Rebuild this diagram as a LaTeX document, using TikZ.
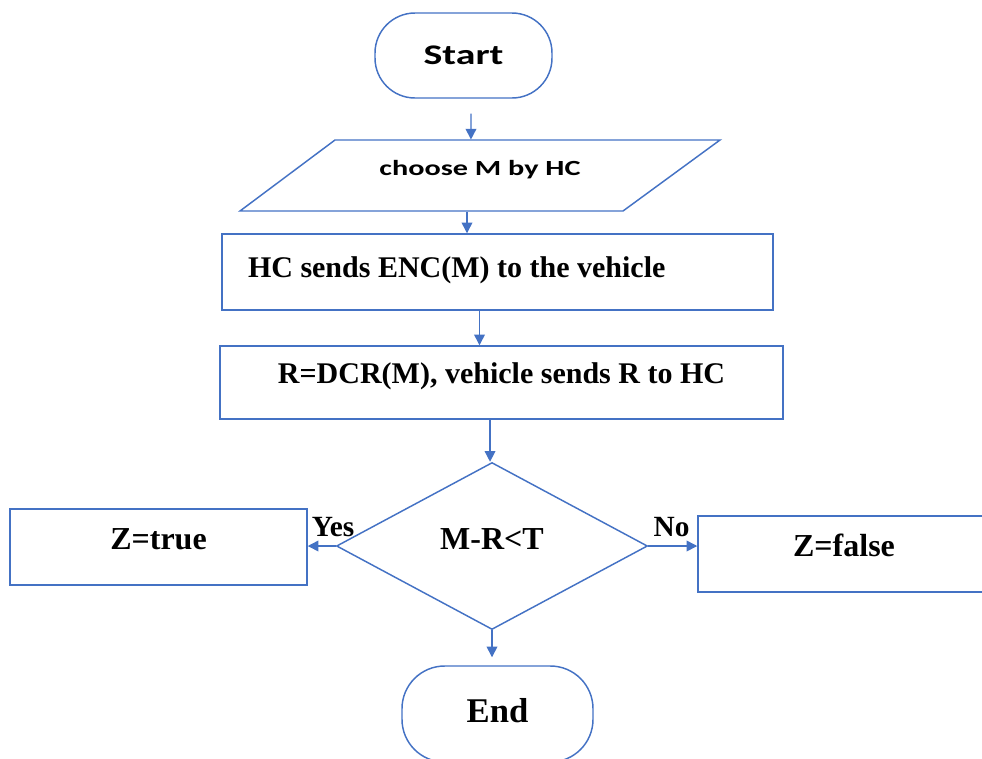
\documentclass[tikz,border=0pt]{standalone}
\usepackage{fontspec}
\setmainfont{Liberation Serif}
\newfontfamily\calibri[FakeStretch=1.4]{Carlito}
\usetikzlibrary{shapes.geometric,arrows.meta}
\definecolor{flowblue}{RGB}{68,114,196}
\tikzset{every picture/.style={line width=0.75pt}}
\tikzset{
  box/.style={draw=flowblue, line width=1.1pt, inner sep=0pt},
  term/.style={box, rounded corners=30pt},
  proc/.style={box},
  arr/.style={draw=flowblue, line width=1.1pt, -{Triangle[length=8pt,width=8pt]}},
  lbl/.style={inner sep=0.75pt, font=\fontsize{22}{26}\selectfont\bfseries}
}

\begin{document}
\begin{tikzpicture}[x=0.75pt,y=0.75pt,yscale=-1,xscale=1]
\useasboundingbox (0,0) rectangle (982,758);
\clip (0,0) rectangle (982,758);
%Shape: Terminal [id:start]
\draw (463.5,55.5) node [term, minimum width=132.75pt, minimum height=63.75pt, font=\calibri\fontsize{21.3}{25}\selectfont\bfseries] (start) {Start};
%Shape: Parallelogram [id:choose]
\draw [box] (335,140) -- (720,140) -- (623,211) -- (240,211) -- cycle ;
\draw (480,175.5) node [inner sep=0pt, minimum width=287pt, minimum height=53.25pt, text depth=11pt, font=\calibri\fontsize{16.2}{19}\selectfont\bfseries] (choose) {choose M by HC};
%Shape: Rectangle [id:hcsend]
\draw (497.5,272) node [proc, minimum height=57pt, inner xsep=19.5pt, text depth=8pt, font=\fontsize{22.5}{27}\selectfont\bfseries] (hcsend) {\makebox[374.25pt][l]{HC sends ENC(M) to the vehicle}};
%Shape: Rectangle [id:dcr]
\draw (501.5,382.5) node [proc, minimum width=422.25pt, minimum height=54.75pt, text depth=14pt, font=\fontsize{22.5}{27}\selectfont\bfseries] (dcr) {R=DCR(M), vehicle sends R to HC};
%Shape: Diamond [id:check]
\draw (492,546) node [box, shape=diamond, minimum width=233.25pt, minimum height=125.25pt, text depth=10pt, font=\fontsize{24}{28}\selectfont\bfseries] (check) {M-R<T};
%Shape: Rectangle [id:ztrue]
\draw (158.5,547) node [proc, minimum width=222.75pt, minimum height=57pt, text depth=12pt, font=\fontsize{24}{28}\selectfont\bfseries] (ztrue) {Z=true};
%Shape: Rectangle [id:zfalse]
\draw (844,554) node [proc, minimum width=219pt, minimum height=57pt, text depth=13pt, font=\fontsize{24}{28}\selectfont\bfseries] (zfalse) {Z=false};
%Shape: Terminal [id:stop]
\draw (497.5,714) node [term, rounded corners=32pt, minimum width=143.25pt, minimum height=72pt, text depth=6pt, font=\fontsize{26}{30}\selectfont\bfseries] (stop) {End};
% Text Node
\draw (333,527) node [lbl] (yes) {Yes};
% Text Node
\draw (671.5,527) node [lbl] (no) {No};
%Straight Lines
\draw [arr] ([shift={(7.5,15)}]start.south) -- ([xshift=5.6pt]start.south |- choose.north);
\draw [arr] ([xshift=-9.75pt]choose.south) -- ([xshift=-9.75pt]choose.south |- hcsend.north);
\draw [arr] ([xshift=-13.5pt]hcsend.south) -- ([xshift=-13.5pt]hcsend.south |- dcr.north);
\draw [arr] ([xshift=-8.6pt]dcr.south) -- ([xshift=-8.6pt]dcr.south |- check.north);
\draw [arr] (check.south) -- ([yshift=-6pt]check.south |- stop.north);
\draw [arr] (check.west) -- (check.west -| ztrue.east);
\draw [arr] (check.east) -- (check.east -| zfalse.west);
\end{tikzpicture}
\end{document}
